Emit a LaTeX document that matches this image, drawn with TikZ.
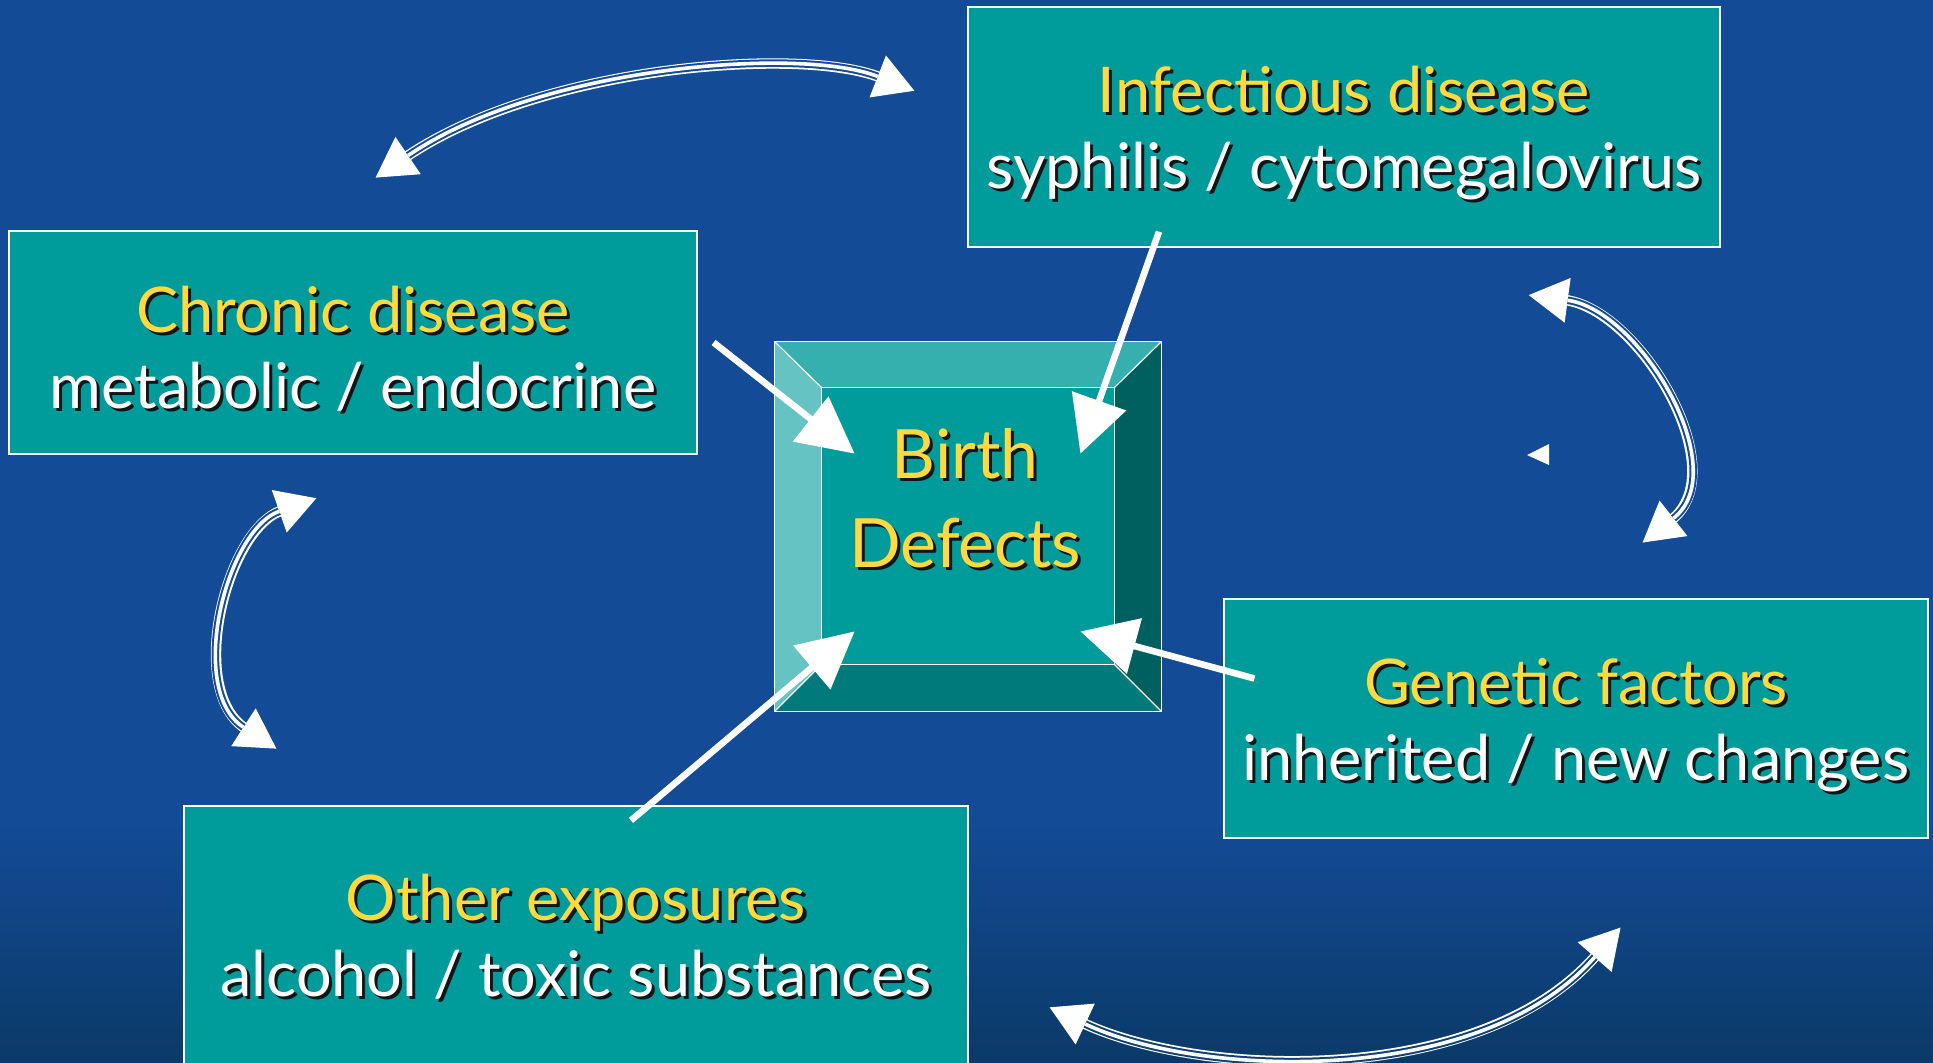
\documentclass[tikz,border=0pt]{standalone}
\usepackage{fontspec}
\setmainfont{Lato}
\usetikzlibrary{arrows.meta,calc}

\definecolor{bgmain}{HTML}{134B96}
\definecolor{bgbot}{HTML}{0B3A68}
\definecolor{bglow}{HTML}{0E4178}
\definecolor{boxteal}{HTML}{009B9B}
\definecolor{bevtop}{HTML}{36AFAF}
\definecolor{bevleft}{HTML}{66C3C3}
\definecolor{bevright}{HTML}{005F5F}
\definecolor{bevbot}{HTML}{007A7A}
\definecolor{titleyellow}{HTML}{FFD93E}
\definecolor{txtshadow}{HTML}{101616}

% text with a small drop shadow
\newcommand{\shd}[2]{\makebox[0pt][l]{\kern1.5pt\raisebox{-1.5pt}{\textcolor{txtshadow}{#2}}}\textcolor{#1}{#2}}
% taller first line, pushes the text block down a little
\newcommand{\topstrut}{\rule{0pt}{31pt}}

\begin{document}
\begin{tikzpicture}[
  x=0.5pt, y=-0.5pt,
  factor/.style={
    draw=white,
    line width=0.6pt,
    fill=boxteal,
    align=center,
    inner sep=0pt,
    font=\fontsize{31.5}{38}\selectfont
  },
  push/.style={white, line width=3.3pt, -{Triangle[length=28pt,width=28pt]}},
  loopout/.style={white, line width=5.2pt,
    {Triangle[length=20pt,width=21pt]}-{Triangle[length=20pt,width=21pt]}},
  loopgap/.style={draw=bgmain, line width=3.8pt, shorten <=20pt, shorten >=20pt},
  loopgapdark/.style={loopgap, draw=bglow},
  loopcore/.style={white, line width=1.8pt, shorten <=20pt, shorten >=20pt}
]

% --- Canvas ---
\useasboundingbox (0,0) rectangle (1933,1062);
\clip (0,0) rectangle (1933,1062);
\fill[bgmain] (0,0) rectangle (1933,1062);
\shade[top color=bgmain, bottom color=bgbot] (0,820) rectangle (1933,1062);

% --- Cause boxes ---
\node[factor, minimum width=376pt, minimum height=120pt] (infect) at (1344,127)
{\topstrut\shd{titleyellow}{Infectious disease}\\\shd{white}{syphilis / cytomegalovirus}};

\node[factor, minimum width=344pt, minimum height=111.5pt] (chronic) at (353,342.5)
{\topstrut\shd{titleyellow}{Chronic disease}\\\shd{white}{metabolic / endocrine}};

\node[factor, minimum width=352pt, minimum height=119.5pt] (genetic) at (1576,718.5)
{\topstrut\shd{titleyellow}{Genetic factors}\\\shd{white}{inherited / new changes}};

\node[factor, minimum width=392pt, minimum height=132pt] (other) at (576,938)
{\shd{titleyellow}{Other exposures}\\\shd{white}{alcohol / toxic substances}};

% --- Central bevelled box ---
\node[minimum width=193pt, minimum height=184.5pt, inner sep=0pt] (bevel) at (968,526.5) {};
\node[fill=boxteal, minimum width=146pt, minimum height=138pt, inner sep=0pt] (core) at (968,526) {};
\fill[bevtop] (bevel.north west) -- (bevel.north east) -- (core.north east) -- (core.north west) -- cycle;
\fill[bevleft] (bevel.north west) -- (core.north west) -- (core.south west) -- (bevel.south west) -- cycle;
\fill[bevright] (bevel.north east) -- (bevel.south east) -- (core.south east) -- (core.north east) -- cycle;
\fill[bevbot] (bevel.south west) -- (core.south west) -- (core.south east) -- (bevel.south east) -- cycle;
\draw[white, line width=0.8pt] (bevel.north west) rectangle (bevel.south east);
\draw[white, line width=0.8pt] (core.north west) rectangle (core.south east);
\draw[white, line width=0.6pt] (bevel.north west) -- (core.north west)
  (bevel.north east) -- (core.north east)
  (bevel.south west) -- (core.south west)
  (bevel.south east) -- (core.south east);

\node[align=center, inner sep=0pt, font=\fontsize{34}{44.5}\selectfont] (bdtext)
  at ($(core.center)+(-3,-26)$) {\shd{titleyellow}{Birth}\\\shd{titleyellow}{Defects}};

% Arrows into the centre
\coordinate (chrTip) at ($(core.north west)+(33,66)$);
\coordinate (infTip) at ($(core.north east)+(-34,66)$);
\coordinate (genTip) at ($(core.south east)+(-34,-33)$);
\coordinate (othTip) at ($(core.south west)+(33,-33)$);

\draw[push] ($(chronic.east)+(16,0)$) -- (chrTip);
\draw[push] ($(infect.south)+(-185,-16)$) -- (infTip);
\draw[push] ($(genetic.west)+(31,-40)$) -- (genTip);
\draw[push] ($(other.north)+(55,15)$) -- (othTip);

% --- Two-way links between causes ---
\coordinate (topL) at (375,178);
\coordinate (topR) at (915,91);
\coordinate (rgtT) at (1528,295);
\coordinate (rgtB) at (1642,543);
\coordinate (lftT) at (317,498);
\coordinate (lftB) at (277,749);
\coordinate (botL) at (1049,1007);
\coordinate (botR) at (1621,927);

\foreach \kind in {loopout, loopgap, loopcore}{
  \draw[\kind] (topL) .. controls (540,66) and (800,46) .. (topR);
  \draw[\kind] (rgtT) .. controls (1640,310) and (1735,470) .. (rgtB);
  \draw[\kind] (lftT) .. controls (226,530) and (186,690) .. (lftB);
}
\foreach \kind in {loopout, loopgapdark, loopcore}{
  \draw[\kind] (botL) .. controls (1200,1078) and (1480,1088) .. (botR);
}

% stray tip
\fill[white] (1527,455) -- (1549,444) -- (1549,465) -- cycle;

\end{tikzpicture}
\end{document}
